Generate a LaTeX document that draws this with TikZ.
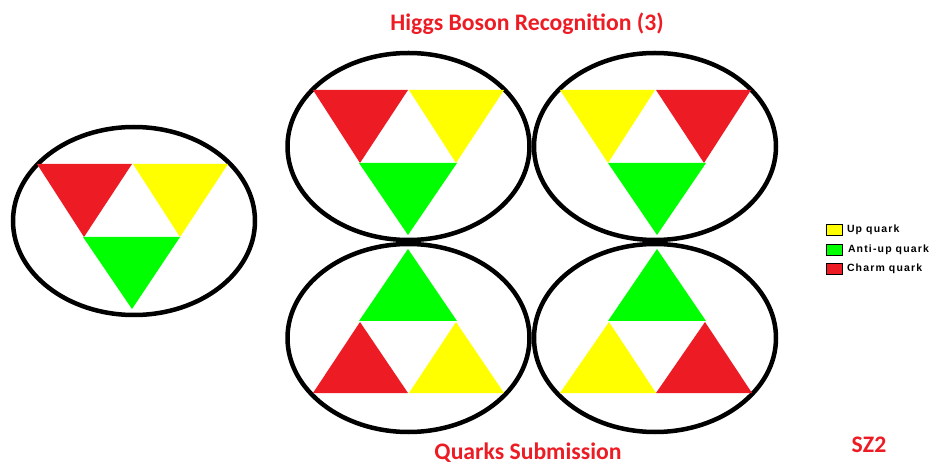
\documentclass[tikz,border=0pt]{standalone}
\usepackage{fontspec}
\setmainfont{Carlito}
\newfontfamily\legendfont[LetterSpace=11]{Liberation Sans}
\usetikzlibrary{positioning}

\definecolor{quarkred}{HTML}{ED1C24}
\definecolor{quarkyellow}{HTML}{FFFF00}
\definecolor{quarkgreen}{HTML}{00FF00}

\begin{document}
\begin{tikzpicture}[
    x=1pt, y=-1pt,
    ring/.style={draw=black, line width=4.5pt},
    redtri/.style={fill=quarkred},
    yellowtri/.style={fill=quarkyellow},
    greentri/.style={fill=quarkgreen},
    heading/.style={text=quarkred, font=\bfseries\fontsize{23.7}{28}\selectfont, inner sep=0pt},
    keybox/.style={draw=black, line width=0.6pt, minimum width=16pt, minimum height=11pt, inner sep=0pt},
    keytext/.style={font=\legendfont\bfseries\fontsize{10.5}{12}\selectfont, inner sep=0pt, anchor=west}
]
\useasboundingbox (0,0) rectangle (938,465);

% left group
\draw[ring] (134,221) ellipse (121 and 94);
\fill[redtri] (37,164) -- (132,164) -- (84,237) -- cycle;
\fill[yellowtri] (133,164) -- (228,164) -- (180,237) -- cycle;
\fill[greentri] (83,237) -- (180,237) -- (132,309) -- cycle;

% top row
\draw[ring] (408.5,146.5) ellipse (121 and 93.5);
\fill[redtri] (313,90) -- (408,90) -- (360,163) -- cycle;
\fill[yellowtri] (409,90) -- (504,90) -- (456,163) -- cycle;
\fill[greentri] (359,163) -- (457,163) -- (408,235) -- cycle;

\draw[ring] (655,146.5) ellipse (121 and 93.5);
\fill[yellowtri] (560,90) -- (655,90) -- (608,163) -- cycle;
\fill[redtri] (656,90) -- (751,90) -- (704,163) -- cycle;
\fill[greentri] (608,163) -- (706,163) -- (657,235) -- cycle;

% bottom row
\draw[ring] (408.5,338) ellipse (121 and 94);
\fill[greentri] (408,249) -- (457,321) -- (359,321) -- cycle;
\fill[redtri] (360,322) -- (408,393) -- (313,393) -- cycle;
\fill[yellowtri] (456,322) -- (504,393) -- (409,393) -- cycle;

\draw[ring] (655,338) ellipse (121 and 94);
\fill[greentri] (657,249) -- (706,321) -- (608,321) -- cycle;
\fill[yellowtri] (609,322) -- (656,393) -- (560,393) -- cycle;
\fill[redtri] (705,322) -- (752,393) -- (656,393) -- cycle;

% titles
\node[heading] (title) at (527,24) {Higgs Boson Recognition (3)};
\node[heading] (subtitle) at (528,453) {Quarks Submission};
\node[heading] (tag) at (869,445) {SZ2};

% legend
\node[keybox, fill=quarkyellow] (upkey) at (834.5,230) {};
\node[keybox, fill=quarkgreen, below=8pt of upkey] (antikey) {};
\node[keybox, fill=quarkred, below=8pt of antikey] (charmkey) {};
\node[keytext, right=4pt of upkey] (uptext) {Up quark};
\node[keytext, right=5pt of antikey] (antitext) {Anti-up quark};
\node[keytext, right=4pt of charmkey] (charmtext) {Charm quark};
\end{tikzpicture}
\end{document}
